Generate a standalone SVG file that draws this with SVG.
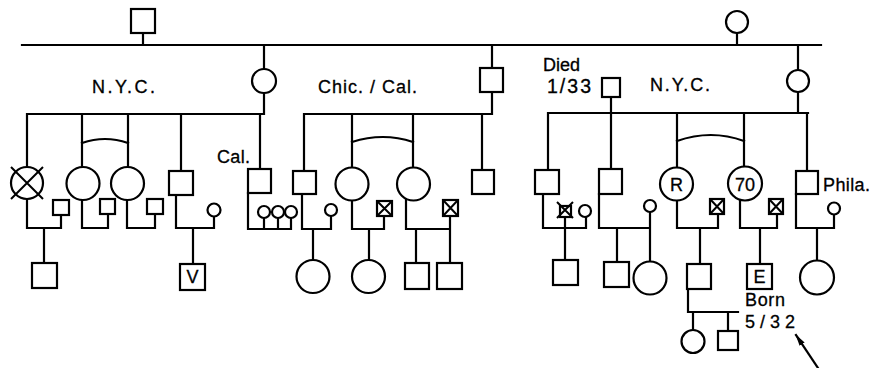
<svg xmlns="http://www.w3.org/2000/svg" width="882" height="368" viewBox="0 0 882 368">
<style>
.ln{stroke:#000;stroke-width:2.2;fill:none;stroke-linecap:square}
.nd{fill:#fff;stroke:#000;stroke-width:2.2}
.x{stroke:#000;stroke-width:2;fill:none}
.tx{font-family:"Liberation Sans",Arial,sans-serif;font-size:18px;fill:#000;stroke:#000;stroke-width:0.3}
.big{font-size:19.5px}
.c{text-anchor:middle}
</style>
<defs>
<marker id="ah" viewBox="0 0 12 8" refX="11" refY="4" markerWidth="12" markerHeight="8" markerUnits="userSpaceOnUse" orient="auto">
<path d="M0,1 L12,4 L0,7 Z" fill="#000"/>
</marker>
</defs>
<rect width="882" height="368" fill="#fff"/>
<g id="connectors">
<path class="ln" d="M22 45 H821" stroke-width="2.4"/>
<path class="ln" d="M143 33 V45 M737 33 V45"/>
<path class="ln" d="M264 45 V69 M264 93 V114 M27 114 H264 M27 114 V167 M82 114 V167 M128 114 V167 M181 114 V171 M260 114 V169"/>
<path class="ln" d="M82 143 Q105 135 128 143"/>
<path class="ln" d="M27 200 V228 H61 V215 M44 228 V263"/>
<path class="ln" d="M82 200 V228 H108 V214"/>
<path class="ln" d="M127 200 V228 H155 V214"/>
<path class="ln" d="M176 195 V228 H214 V216 M193 228 V264"/>
<path class="ln" d="M248 193 V229 H291 V218 M264 229 V218 M278 229 V218"/>
<path class="ln" d="M492 45 V68 M492 92 V114 M304 114 H492 M304 114 V171 M352 114 V168 M413 114 V168 M482 114 V170"/>
<path class="ln" d="M352 142 Q383 132 413 142"/>
<path class="ln" d="M302 194 V229 H331 V216 M313 229 V260"/>
<path class="ln" d="M352 200 V229 H384 V216 M369 229 V260"/>
<path class="ln" d="M406 199 V229 H450 V216 M416 229 V263 M450 229 V263"/>
<path class="ln" d="M611 97 V169 M798 45 V70 M798 92 V113 M548 113 H808 M548 113 V170 M677 113 V168 M744 113 V167 M807 113 V171"/>
<path class="ln" d="M677 141 Q711 129 744 141"/>
<path class="ln" d="M543 194 V228 H586 V217 M565 219 V260"/>
<path class="ln" d="M599 194 V228 H650 V212 M617 228 V262 M650 228 V262"/>
<path class="ln" d="M677 200 V228 H718 V214 M700 228 V264 M688 289 V312 H738 M693 312 V330 M728 312 V331"/>
<path class="ln" d="M740 200 V228 H777 V214 M760 228 V264"/>
<path class="ln" d="M796 194 V228 H834 V214 M817 228 V261"/>
<path class="ln" d="M818 368 L796 335" marker-end="url(#ah)"/>
</g>
<g id="top-father"><rect class="nd" x="131" y="9" width="24" height="24"/></g>
<g id="top-mother"><circle class="nd" cx="737" cy="22" r="11"/></g>
<g id="nyc-mother"><circle class="nd" cx="264" cy="81" r="12"/></g>
<g id="nyc-label"><text class="tx" x="92" y="93" textLength="63" lengthAdjust="spacing">N.Y.C.</text></g>
<g id="l-child1"><circle class="nd" cx="27" cy="183" r="16"/><path class="x" d="M11 167 L43 199 M43 167 L11 199"/></g>
<g id="l-child1-spouse"><rect class="nd" x="53" y="200" width="16" height="15"/></g>
<g id="l-gchild1"><rect class="nd" x="32" y="263" width="25" height="25"/></g>
<g id="l-child2"><circle class="nd" cx="83" cy="183.5" r="16.5"/></g>
<g id="l-child2-spouse"><rect class="nd" x="100" y="199" width="15" height="15"/></g>
<g id="l-child3"><circle class="nd" cx="127.5" cy="183.5" r="16.5"/></g>
<g id="l-child3-spouse"><rect class="nd" x="147" y="199" width="16" height="15"/></g>
<g id="l-child4"><rect class="nd" x="169" y="171" width="24" height="24"/></g>
<g id="l-child4-spouse"><circle class="nd" cx="214" cy="210" r="6.5"/></g>
<g id="l-gchild4"><rect class="nd" x="180" y="264" width="25" height="26"/><text class="tx c" x="192.5" y="283">V</text></g>
<g id="l-child5"><rect class="nd" x="248" y="169" width="23" height="24"/><text class="tx" x="217" y="163" textLength="33" lengthAdjust="spacing">Cal.</text></g>
<g id="l-child5-spouses"><circle class="nd" cx="264" cy="212" r="6"/><circle class="nd" cx="278" cy="212" r="6"/><circle class="nd" cx="291" cy="212" r="6"/></g>
<g id="chic-father"><rect class="nd" x="480" y="68" width="23" height="24"/></g>
<g id="chic-label"><text class="tx" x="318" y="93" textLength="99" lengthAdjust="spacing">Chic. / Cal.</text></g>
<g id="c-child1"><rect class="nd" x="293" y="171" width="23" height="23"/></g>
<g id="c-child1-spouse"><circle class="nd" cx="331" cy="210" r="6"/></g>
<g id="c-gchild1"><circle class="nd" cx="313" cy="276.5" r="16.5"/></g>
<g id="c-child2"><circle class="nd" cx="352" cy="184" r="16.5"/></g>
<g id="c-child2-spouse"><rect class="nd" x="377" y="201" width="15" height="15"/><path class="x" d="M377 201 L392 216 M392 201 L377 216"/></g>
<g id="c-gchild2"><circle class="nd" cx="368.5" cy="276.5" r="16.5"/></g>
<g id="c-child3"><circle class="nd" cx="413.5" cy="184" r="16.5"/></g>
<g id="c-child3-spouse"><rect class="nd" x="443" y="200" width="15" height="16"/><path class="x" d="M443 200 L458 216 M458 200 L443 216"/></g>
<g id="c-gchild3a"><rect class="nd" x="405" y="263" width="24" height="26"/></g>
<g id="c-gchild3b"><rect class="nd" x="437" y="263" width="25" height="26"/></g>
<g id="c-child4"><rect class="nd" x="472" y="170" width="22" height="24"/></g>
<g id="died-father"><rect class="nd" x="602" y="78" width="18" height="19"/><text class="tx" x="543" y="71" textLength="37" lengthAdjust="spacing">Died</text><text class="tx big" x="547" y="93" textLength="44" lengthAdjust="spacing">1/33</text></g>
<g id="nyc2-mother"><circle class="nd" cx="798" cy="81" r="11"/></g>
<g id="nyc2-label"><text class="tx" x="650" y="91" textLength="60" lengthAdjust="spacing">N.Y.C.</text></g>
<g id="r-child1"><rect class="nd" x="535" y="170" width="24" height="24"/></g>
<g id="r-child1-spouse1"><rect class="nd" x="560" y="206" width="11" height="11"/><path class="x" d="M557 202 L573 218 M573 202 L557 218"/></g>
<g id="r-child1-spouse2"><circle class="nd" cx="585" cy="211" r="6"/></g>
<g id="r-gchild1"><rect class="nd" x="553" y="260" width="25" height="25"/></g>
<g id="r-child2"><rect class="nd" x="599" y="169" width="23" height="25"/></g>
<g id="r-child2-spouse"><circle class="nd" cx="650" cy="206" r="6"/></g>
<g id="r-gchild2a"><rect class="nd" x="604" y="262" width="25" height="25"/></g>
<g id="r-gchild2b"><circle class="nd" cx="650" cy="278" r="16.5"/></g>
<g id="r-child3"><circle class="nd" cx="676.5" cy="184" r="16.5"/><text class="tx c" x="676.5" y="191">R</text></g>
<g id="r-child3-spouse"><rect class="nd" x="710" y="199" width="14" height="15"/><path class="x" d="M710 199 L724 214 M724 199 L710 214"/></g>
<g id="r-gchild3"><rect class="nd" x="687" y="264" width="24" height="25"/></g>
<g id="r-ggchild1"><circle class="nd" cx="693" cy="341.5" r="11.5"/></g>
<g id="r-ggchild2"><rect class="nd" x="718" y="331" width="20" height="19"/></g>
<g id="born-label"><text class="tx" x="745" y="306" textLength="40" lengthAdjust="spacing">Born</text><text class="tx" x="745" y="328" textLength="50" lengthAdjust="spacing" font-size="18.5">5/32</text></g>
<g id="r-child4"><circle class="nd" cx="745" cy="183.5" r="17"/><text class="tx c" x="745" y="191">70</text></g>
<g id="r-child4-spouse"><rect class="nd" x="769" y="199" width="14" height="15"/><path class="x" d="M769 199 L783 214 M783 199 L769 214"/></g>
<g id="r-gchild4"><rect class="nd" x="747" y="264" width="25" height="25"/><text class="tx c" x="759.5" y="283">E</text></g>
<g id="r-child5"><rect class="nd" x="796" y="171" width="22" height="23"/><text class="tx" x="823" y="191" textLength="47" lengthAdjust="spacing">Phila.</text></g>
<g id="r-child5-spouse"><circle class="nd" cx="834" cy="208.5" r="6"/></g>
<g id="r-gchild5"><circle class="nd" cx="817" cy="277.5" r="17"/></g>
</svg>
